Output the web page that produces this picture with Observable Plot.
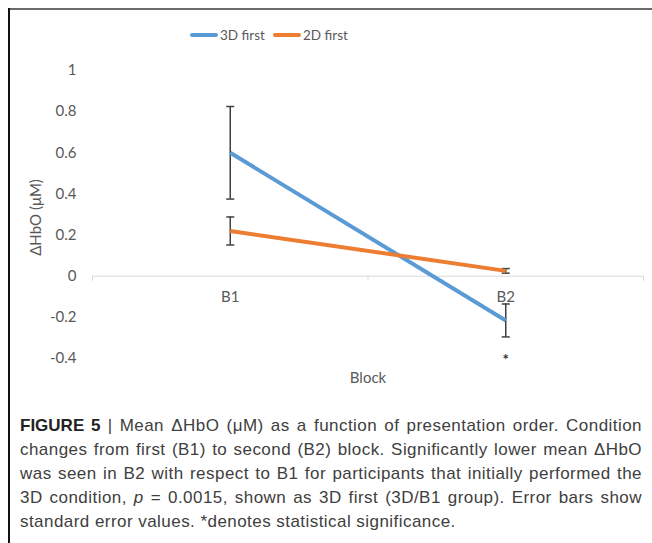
<!DOCTYPE html>
<html><head><meta charset="utf-8">
<script src="https://cdn.jsdelivr.net/npm/d3@7"></script>
<script src="https://cdn.jsdelivr.net/npm/@observablehq/plot@0.6"></script>
<style>
html,body{margin:0;padding:0;background:#fff;}
body{width:652px;height:543px;position:relative;overflow:hidden;}
#frameTop{position:absolute;left:8px;top:8px;width:644px;height:2px;background:#6b6b6b;}
#frameLeft{position:absolute;left:8px;top:8px;width:2px;height:535px;background:#111;}
#legend{position:absolute;top:26px;left:0;width:652px;font-family:Lato,"Open Sans",sans-serif;font-size:13.5px;color:#595959;}
.item{position:absolute;top:0;display:flex;align-items:center;height:18px;}
.sw{width:28px;height:4px;border-radius:2px;margin-right:2px;}
#chart{position:absolute;left:0;top:50px;}
#caption{position:absolute;left:20px;top:414px;width:622px;font-family:"Liberation Sans",Arial,sans-serif;font-size:17px;line-height:24px;color:#404040;letter-spacing:0.45px;}
#caption div{white-space:nowrap;}
#caption div.j{text-align:justify;text-align-last:justify;}
#caption b{color:#222;letter-spacing:0;}
</style></head>
<body>
<div id="frameTop"></div><div id="frameLeft"></div>
<div id="legend"></div>
<div id="chart"></div>
<div id="caption">
<div class="j"><b>FIGURE 5</b> | Mean ΔHbO (μM) as a function of presentation order. Condition</div>
<div class="j">changes from first (B1) to second (B2) block. Significantly lower mean ΔHbO</div>
<div class="j">was seen in B2 with respect to B1 for participants that initially performed the</div>
<div class="j">3D condition, <i>p</i> = 0.0015, shown as 3D first (3D/B1 group). Error bars show</div>
<div>standard error values. *denotes statistical significance.</div>
</div>
<script>
const blocks = ["B1", "B2"];
const series = ["3D first", "2D first"];
const mean3D = [0.60, -0.215];
const se3D = [0.225, 0.08];
const mean2D = [0.22, 0.026];
const se2D = [0.068, 0.011];
const sig3D = ["", "*"];
const yTicks = [-0.4, -0.2, 0, 0.2, 0.4, 0.6, 0.8, 1];
const xTickEdges = [0, 1, 2];
const colors = ["#5b9bd5", "#ed7d31"];
const yLabel = "ΔHbO (μM)";
const xLabel = "Block";

const rows = [];
blocks.forEach((b, i) => {
  rows.push({series: series[0], block: b, pos: i + 0.5, mean: mean3D[i], se: se3D[i], sig: sig3D[i]});
  rows.push({series: series[1], block: b, pos: i + 0.5, mean: mean2D[i], se: se2D[i], sig: ""});
});

const capSymbol = {draw(ctx) { ctx.moveTo(-4, 0); ctx.lineTo(4, 0); }};
const font = "Lato, 'Open Sans', sans-serif";

const plot = Plot.plot({
  width: 652,
  height: 340,
  marginTop: 20,
  marginBottom: 32,
  marginLeft: 92,
  marginRight: 9,
  style: {fontFamily: font, fontSize: "15px", color: "#595959", background: "transparent"},
  x: {domain: [0, 2], axis: null},
  y: {domain: [-0.4, 1], axis: null},
  color: {domain: series, range: colors},
  marks: [
    Plot.axisY(yTicks, {tickSize: 0, tickPadding: 16, tickFormat: d => String(+d.toFixed(1)), label: null, fontSize: 15}),
    Plot.ruleY([0], {stroke: "#d9d9d9", strokeWidth: 1}),
    Plot.ruleX(xTickEdges, {y1: 0, y2: 0, insetBottom: -5, stroke: "#d9d9d9", strokeWidth: 1}),
    Plot.text(blocks, {x: (d, i) => i + 0.5, y: () => 0, text: d => d, dy: 21, fill: "#595959", fontSize: 15}),
    Plot.ruleX(rows, {x: "pos", y1: d => d.mean - d.se, y2: d => d.mean + d.se, stroke: "#404040", strokeWidth: 1.5}),
    Plot.dot(rows, {x: "pos", y: d => d.mean - d.se, symbol: capSymbol, stroke: "#404040", strokeWidth: 1.5, fill: "none"}),
    Plot.dot(rows, {x: "pos", y: d => d.mean + d.se, symbol: capSymbol, stroke: "#404040", strokeWidth: 1.5, fill: "none"}),
    Plot.line(rows, {x: "pos", y: "mean", z: "series", stroke: "series", strokeWidth: 4, strokeLinecap: "butt"}),
    Plot.text(rows.filter(d => d.sig), {x: "pos", y: d => d.mean - d.se, text: "sig", dy: 23, fontSize: 15, fill: "#333", fontWeight: "bold"}),
    Plot.text([yLabel], {frameAnchor: "left", textAnchor: "middle", text: d => d, rotate: -90, dx: -56, dy: 3, fontSize: 15, fill: "#595959"}),
    Plot.text([xLabel], {frameAnchor: "bottom", text: d => d, dy: 24, fontSize: 15, fill: "#595959"})
  ]
});
document.getElementById("chart").appendChild(plot);

const legend = document.getElementById("legend");
const legendX = [190, 273];
series.forEach((s, i) => {
  const it = document.createElement("div");
  it.className = "item";
  it.style.left = legendX[i] + "px";
  const sw = document.createElement("div");
  sw.className = "sw";
  sw.style.background = colors[i];
  const t = document.createElement("span");
  t.textContent = s;
  it.appendChild(sw); it.appendChild(t);
  legend.appendChild(it);
});
</script>
</body></html>
